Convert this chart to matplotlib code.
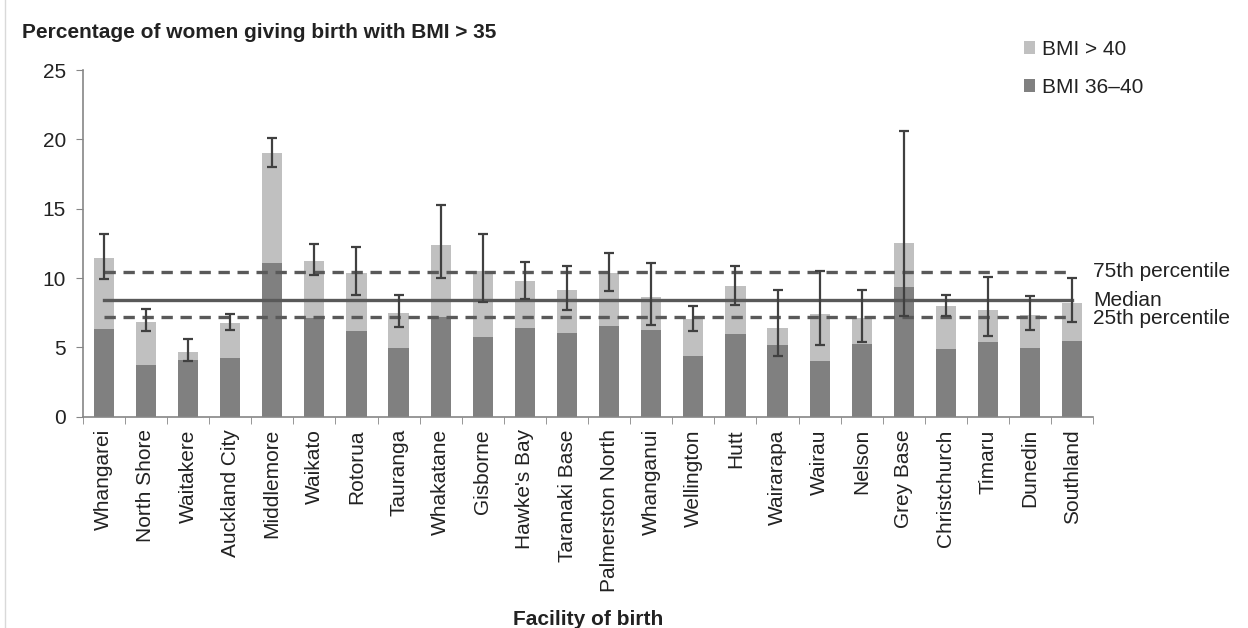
import numpy as np
import matplotlib.pyplot as plt
from matplotlib.lines import Line2D

plt.rcParams['font.family'] = ['Liberation Sans', 'DejaVu Sans']

# данные
facilities = ['Whangarei', 'North Shore', 'Waitakere', 'Auckland City', 'Middlemore',
              'Waikato', 'Rotorua', 'Tauranga', 'Whakatane', 'Gisborne', "Hawke's Bay",
              'Taranaki Base', 'Palmerston North', 'Whanganui', 'Wellington', 'Hutt',
              'Wairarapa', 'Wairau', 'Nelson', 'Grey Base', 'Christchurch', 'Timaru',
              'Dunedin', 'Southland']
bmi_36_40 = [6.29, 3.75, 4.08, 4.23, 11.05, 7.13, 6.15, 4.95, 7.18, 5.76, 6.39, 6.05,
             6.56, 6.22, 4.39, 5.98, 5.19, 3.99, 5.26, 9.34, 4.88, 5.36, 4.95, 5.43]
total_bmi_35 = [11.43, 6.84, 4.68, 6.77, 19.04, 11.26, 10.37, 7.49, 12.39, 10.47, 9.75, 9.10,
                10.33, 8.60, 7.01, 9.41, 6.39, 7.42, 7.11, 12.49, 7.97, 7.66, 7.32, 8.21]
ci_low = [9.92, 6.17, 3.99, 6.24, 18.01, 10.23, 8.79, 6.48, 9.99, 8.29, 8.50, 7.68,
          9.05, 6.60, 6.15, 8.05, 4.39, 5.19, 5.40, 7.25, 7.25, 5.84, 6.24, 6.80]
ci_high = [13.21, 7.78, 5.62, 7.44, 20.10, 12.44, 12.22, 8.81, 15.27, 13.14, 11.19, 10.88,
           11.84, 11.07, 8.00, 10.88, 9.13, 10.47, 9.13, 20.58, 8.81, 10.09, 8.72, 9.99]
p25 = 7.16
median = 8.45
p75 = 10.45

bmi_36_40 = np.array(bmi_36_40)
total_bmi_35 = np.array(total_bmi_35)
bmi_over_40 = total_bmi_35 - bmi_36_40
x = np.arange(len(facilities))

fs = 15
txt = '#222222'

fig = plt.figure(figsize=(12.48, 6.28), dpi=100)
ax = fig.add_axes([0.0663, 0.3365, 0.8098, 0.552])

ax.bar(x, bmi_36_40, width=0.48, color='#808080', label='BMI 36–40', zorder=2)
ax.bar(x, bmi_over_40, width=0.48, bottom=bmi_36_40, color='#c0c0c0', label='BMI > 40', zorder=2)

yerr = [total_bmi_35 - np.array(ci_low), np.array(ci_high) - total_bmi_35]
ax.errorbar(x, total_bmi_35, yerr=yerr, fmt='none', ecolor='#404040',
            elinewidth=1.6, capsize=3.6, capthick=1.6, zorder=4)

line_col = '#595959'
ax.plot([x[0], x[-1]], [p75, p75], color=line_col, lw=2.4, ls=(0, (3.4, 2.3)), zorder=3)
ax.plot([x[0], x[-1]], [median, median], color=line_col, lw=2.4, zorder=3)
ax.plot([x[0], x[-1]], [p25, p25], color=line_col, lw=2.4, ls=(0, (3.4, 2.3)), zorder=3)

ytr = ax.get_yaxis_transform()
ax.text(1.0, p75, '75th percentile', transform=ytr, fontsize=fs, va='center', ha='left', color=txt)
ax.text(1.0, 8.4, 'Median', transform=ytr, fontsize=fs, va='center', ha='left', color=txt)
ax.text(1.0, 7.05, '25th percentile', transform=ytr, fontsize=fs, va='center', ha='left', color=txt)

ax.set_xlim(-0.5, len(facilities) - 0.5)
ax.set_ylim(0, 25)
ax.set_yticks([0, 5, 10, 15, 20, 25])
ax.tick_params(axis='y', labelsize=fs, colors='#868686', labelcolor=txt,
               length=5, direction='out', pad=7)

ax.set_xticks(x)
ax.set_xticklabels(facilities, rotation=90, fontsize=fs, color=txt)
ax.tick_params(axis='x', length=0, pad=9)
ax.set_xticks(np.arange(-0.5, len(facilities)), minor=True)
ax.tick_params(axis='x', which='minor', length=5, color='#868686', direction='out')

for s in ['top', 'right']:
    ax.spines[s].set_visible(False)
for s in ['left', 'bottom']:
    ax.spines[s].set_color('#868686')
    ax.spines[s].set_linewidth(1.2)

fig.text(0.018, 1 - 38 / 628, 'Percentage of women giving birth with BMI > 35',
         fontsize=fs, fontweight='bold', color=txt, va='baseline')
fig.text(0.0663 + 0.8098 / 2, 1 - 625 / 628, 'Facility of birth', fontsize=fs,
         fontweight='bold', color=txt, ha='center', va='baseline')

handles, labels = ax.get_legend_handles_labels()
leg = fig.legend(handles[::-1], labels[::-1], loc='upper left',
                 bbox_to_anchor=(1024 / 1248, 1 - 40 / 628), frameon=False, fontsize=fs,
                 handlelength=0.55, handleheight=0.55, handletextpad=0.3,
                 labelspacing=0.9, borderpad=0, borderaxespad=0)
for t in leg.get_texts():
    t.set_color(txt)

fig.add_artist(Line2D([0.004, 0.004], [0, 1], color='#d9d9d9', lw=1))

fig.savefig('out.png', dpi=100)
